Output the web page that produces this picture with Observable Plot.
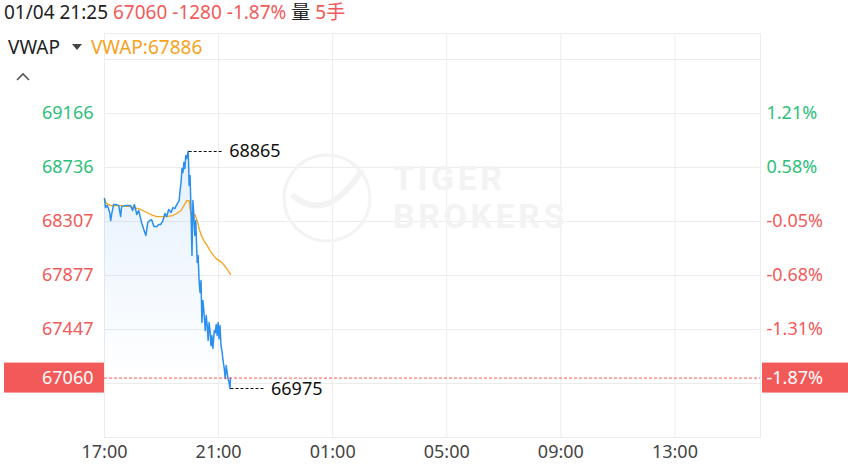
<!DOCTYPE html>
<html><head><meta charset="utf-8">
<script src="https://cdn.jsdelivr.net/npm/d3@7"></script>
<script src="https://cdn.jsdelivr.net/npm/@observablehq/plot@0.6"></script>
<style>
body{margin:0;background:#fff;font-family:"Noto Sans","Noto Sans CJK SC",sans-serif;}
#wrap{position:relative;width:848px;height:466px;overflow:hidden}
#hdr{position:absolute;left:4px;top:-1px;font-size:19px;line-height:26px;white-space:nowrap;z-index:2;color:#222}
#leg{position:absolute;left:8px;top:34px;font-size:19px;line-height:26px;white-space:nowrap;z-index:2;color:#222}
#chev{position:absolute;left:15px;top:66px;z-index:2}
.red{color:#f25a5a}.org{color:#f7a21b}
#chart svg{display:block}
</style></head><body>
<div id="wrap"><div id="hdr"></div><div id="leg"></div><div id="chev"></div><div id="chart"></div></div>
<script>
// ---- data ----
const headerDate = "01/04 21:25";
const prevClose = 68340;
const lastPrice = 67060;
const changeAbs = -1280;
const changePct = "-1.87%";
const volumeLabel = "5手";
const vwapLast = 67886;

// minutes after 17:00 (session start) and traded price
const priceMinutes = [0,2,6,11,13,15,19,25,30,34,36,44,55,59,63,68,72,78,82,87,91,95,99,104,110,114,118,123,127,131,135,140,144,148,152,157,159,161,163,165,167,169,171,173,176,177,178,180,182,184,186,188,190,192,195,197,199,201,203,205,207,209,212,214,216,218,220,222,224,226,228,231,233,235,237,239,241,243,245,247,250,252,254,256,258,260,262,264,265];
const prices = [68489,68417,68433,68378,68314,68362,68441,68441,68433,68346,68425,68433,68433,68394,68441,68362,68394,68298,68250,68195,68298,68314,68322,68266,68266,68282,68282,68314,68370,68346,68402,68378,68417,68409,68441,68473,68553,68617,68728,68696,68776,68728,68832,68808,68865,68760,68593,68673,68394,68035,68473,68354,68195,68314,67980,68035,67836,67741,67836,67502,67677,67598,67438,67558,67478,67359,67502,67438,67318,67398,67295,67438,67422,67486,67398,67502,67374,67478,67318,67279,67183,67136,67056,67160,67104,67056,67024,66975,67060];

const vwapMinutes = [0,4,13,34,55,76,89,97,110,129,144,152,161,167,173,178,180,182,186,190,195,199,203,209,216,222,228,235,241,247,254,260,265];
const vwapValues = [68489,68449,68433,68433,68425,68402,68378,68362,68346,68346,68354,68370,68394,68433,68473,68473,68409,68362,68370,68362,68314,68250,68202,68155,68115,68075,68043,68011,67995,67979,67948,67916,67886];

const yGridValues = [67017,67447,67877,68307,68736,69166,69596];
const yLabelValues = [67447,67877,68307,68736,69166];
const yLabelPct = ["-1.31%","-0.68%","-0.05%","0.58%","1.21%"];
const xTickMinutes = [0,240,480,720,960,1200];
const xTickLabels = ["17:00","21:00","01:00","05:00","09:00","13:00"];
const sessionMinutes = 1380; // 17:00 -> 16:00 next day
const yDomain = [66587,69803];
const watermarkLines = ["TIGER","BROKERS"];

// ---- colors ----
const RED = "#f25a5a", GREEN = "#2dbf7a", BLUE = "#2b8ff0", ORANGE = "#f7a21b", GRID = "#ececec";

const t0 = new Date(2024,0,4,17,0);
const toDate = m => new Date(t0.getTime() + m*60000);
const priceData = priceMinutes.map((m,i) => ({t: toDate(m), p: prices[i]}));
const vwapData = vwapMinutes.map((m,i) => ({t: toDate(m), v: vwapValues[i]}));
const xTicks = xTickMinutes.map((m,i) => ({t: toDate(m), label: xTickLabels[i]}));
const yLabels = yLabelValues.map((v,i) => ({v, pct: yLabelPct[i]}));
const colorFor = v => v >= prevClose ? GREEN : RED;

const maxI = d3.maxIndex(priceData, d => d.p);
const minI = d3.minIndex(priceData, d => d.p);
const extremes = [priceData[maxI], priceData[minI]];

// header
document.getElementById("hdr").innerHTML =
  `${headerDate} <span class="red">${lastPrice} ${changeAbs} ${changePct}</span> 量 <span class="red">${volumeLabel}</span>`;
document.getElementById("leg").innerHTML =
  `VWAP <svg width="12" height="10" style="margin:0 8px 0 6px;vertical-align:2px"><path d="M1,2 L11,2 L6,8 Z" fill="#444"/></svg><span class="org">VWAP:${vwapLast}</span>`;
document.getElementById("chev").innerHTML =
  `<svg width="16" height="12"><path d="M2,9 L8,3 L14,9" fill="none" stroke="#555" stroke-width="1.6"/></svg>`;

// custom marks
function defsMark() {
  const defs = d3.create("svg:defs");
  const g = defs.append("linearGradient").attr("id","pg").attr("x1",0).attr("x2",0).attr("y1",0).attr("y2",1);
  g.append("stop").attr("offset","0%").attr("stop-color",BLUE).attr("stop-opacity",0.13);
  g.append("stop").attr("offset","80%").attr("stop-color",BLUE).attr("stop-opacity",0);
  return defs.node();
}
function watermarkMark(index, scales, values, dims) {
  const cx = dims.marginLeft + (dims.width - dims.marginLeft - dims.marginRight)/2;
  const cy = dims.marginTop + (dims.height - dims.marginTop - dims.marginBottom)/2;
  const g = d3.create("svg:g").attr("fill","none").attr("stroke","#f3f3f3");
  g.append("circle").attr("cx", cx-105).attr("cy", cy-37).attr("r", 43).attr("stroke-width", 3);
  g.append("path").attr("d", `M${cx-140},${cy-40} q35,30 70,-25`).attr("stroke-width", 6);
  watermarkLines.forEach((s,i) =>
    g.append("text").attr("fill","#f3f3f3").attr("stroke","none").attr("text-anchor","start")
      .attr("font-size",34).attr("font-weight","bold").attr("font-family","Roboto, sans-serif")
      .attr("letter-spacing", 3.5)
      .attr("x", cx-39).attr("y", cy-45 + i*38).text(s));
  return g.node();
}
function lastPriceBoxes(index, scales, values, dims) {
  const y = scales.y(lastPrice);
  const g = d3.create("svg:g").attr("fill", RED);
  g.append("rect").attr("x",4).attr("y",y-15).attr("width",dims.marginLeft-4).attr("height",30);
  g.append("rect").attr("x",dims.width-dims.marginRight+2).attr("y",y-15).attr("width",dims.marginRight-2).attr("height",30);
  return g.node();
}
function leaders(index, scales) {
  const g = d3.create("svg:g").attr("stroke","#111").attr("stroke-dasharray","3,2");
  for (const d of extremes) {
    const x = scales.x(d.t) + 1, y = Math.round(scales.y(d.p)) + 0.5;
    g.append("line").attr("x1", x).attr("x2", x+35).attr("y1", y).attr("y2", y);
  }
  return g.node();
}

const chart = Plot.plot({
  width: 848, height: 466,
  marginLeft: 104, marginRight: 88, marginTop: 33, marginBottom: 29,
  style: {fontFamily: "'Noto Sans', sans-serif", fontSize: "18px", background: "white"},
  x: {type: "time", domain: [toDate(0), toDate(sessionMinutes)], axis: null},
  y: {domain: yDomain, axis: null},
  marks: [
    defsMark,
    Plot.ruleY(yGridValues, {stroke: GRID}),
    Plot.ruleX(xTicks, {x: "t", stroke: GRID}),
    Plot.frame({stroke: GRID}),
    watermarkMark,
    Plot.areaY(priceData, {x: "t", y1: yDomain[0], y2: "p", fill: "url(#pg)"}),
    Plot.lineY(vwapData, {x: "t", y: "v", stroke: ORANGE, strokeWidth: 1.3}),
    Plot.lineY(priceData, {x: "t", y: "p", stroke: BLUE, strokeWidth: 1.5}),
    Plot.ruleY([lastPrice], {stroke: RED, strokeDasharray: "3,2", strokeWidth: 1}),
    lastPriceBoxes,
    Plot.text(yLabels, {y: "v", text: d => String(d.v), frameAnchor: "left", dx: -11, textAnchor: "end", fill: d => colorFor(d.v)}),
    Plot.text(yLabels, {y: "v", text: "pct", frameAnchor: "right", dx: 6, textAnchor: "start", fill: d => colorFor(d.v)}),
    Plot.text([lastPrice], {y: d => d, text: d => String(d), frameAnchor: "left", dx: -11, textAnchor: "end", fill: "white"}),
    Plot.text([lastPrice], {y: d => d, text: () => changePct, frameAnchor: "right", dx: 6, textAnchor: "start", fill: "white"}),
    Plot.text(xTicks, {x: "t", text: "label", frameAnchor: "bottom", dy: 20, fill: "#444"}),
    leaders,
    Plot.text(extremes, {x: "t", y: "p", text: d => String(d.p), dx: 41, textAnchor: "start", fill: "#111"})
  ]
});
document.getElementById("chart").appendChild(chart);
</script>
</body></html>
